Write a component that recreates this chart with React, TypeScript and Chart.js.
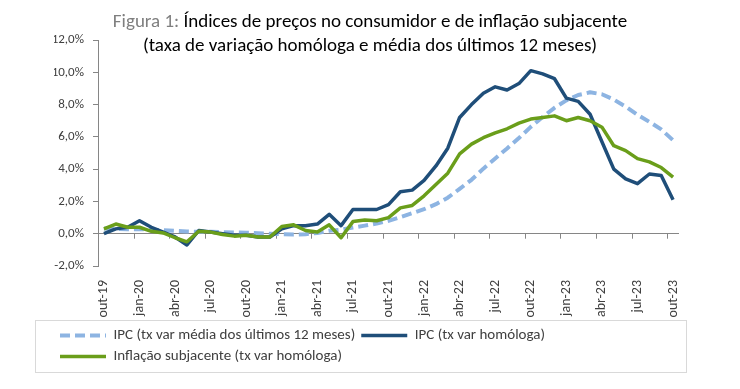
import React, { useEffect, useRef } from 'react';
import { Chart, registerables } from 'chart.js';

Chart.register(...registerables);

const months = [
  'out-19', 'nov-19', 'dez-19',
  'jan-20', 'fev-20', 'mar-20', 'abr-20', 'mai-20', 'jun-20', 'jul-20', 'ago-20', 'set-20', 'out-20', 'nov-20', 'dez-20',
  'jan-21', 'fev-21', 'mar-21', 'abr-21', 'mai-21', 'jun-21', 'jul-21', 'ago-21', 'set-21', 'out-21', 'nov-21', 'dez-21',
  'jan-22', 'fev-22', 'mar-22', 'abr-22', 'mai-22', 'jun-22', 'jul-22', 'ago-22', 'set-22', 'out-22', 'nov-22', 'dez-22',
  'jan-23', 'fev-23', 'mar-23', 'abr-23', 'mai-23', 'jun-23', 'jul-23', 'ago-23', 'set-23', 'out-23',
];

const ipcMedia12 = [
  0.33, 0.3, 0.28,
  0.28, 0.25, 0.22, 0.18, 0.14, 0.12, 0.12, 0.1, 0.08, 0.06, 0.03, 0.0,
  -0.03, -0.05, -0.03, 0.05, 0.18, 0.25, 0.38, 0.5, 0.63, 0.8, 1.03, 1.27,
  1.52, 1.83, 2.23, 2.78, 3.34, 4.03, 4.66, 5.28, 5.93, 6.62, 7.23, 7.8,
  8.26, 8.59, 8.76, 8.64, 8.31, 7.87, 7.37, 6.93, 6.46, 5.79,
];

const ipcHomologa = [
  0.0, 0.3, 0.4,
  0.8, 0.4, 0.1, -0.2, -0.7, 0.2, 0.1, 0.0, -0.1, -0.1, -0.2, -0.2,
  0.3, 0.5, 0.5, 0.6, 1.2, 0.5, 1.5, 1.5, 1.5, 1.8, 2.6, 2.7,
  3.3, 4.2, 5.3, 7.2, 8.0, 8.7, 9.1, 8.9, 9.3, 10.1, 9.9, 9.6,
  8.4, 8.2, 7.4, 5.7, 4.0, 3.4, 3.1, 3.7, 3.6, 2.1,
];

const inflacaoSubjacente = [
  0.3, 0.6, 0.4,
  0.4, 0.15, 0.05, -0.25, -0.5, 0.15, 0.1, -0.05, -0.15, -0.1, -0.2, -0.2,
  0.45, 0.55, 0.2, 0.1, 0.55, -0.25, 0.75, 0.85, 0.8, 1.0, 1.6, 1.75,
  2.35, 3.05, 3.75, 4.95, 5.55, 5.95, 6.25, 6.5, 6.85, 7.1, 7.2, 7.3,
  7.0, 7.2, 7.0, 6.6, 5.45, 5.15, 4.65, 4.45, 4.1, 3.5,
];

const seriesLabels = [
  'IPC (tx var média dos últimos 12 meses)',
  'IPC (tx var homóloga)',
  'Inflação subjacente (tx var homóloga)',
];

const titlePrefix = 'Figura 1: ';
const titleLine1 = 'Índices de preços no consumidor e de inflação subjacente';
const titleLine2 = '(taxa de variação homóloga e média dos últimos 12 meses)';

const yMin = -2;
const yMax = 12;
const yStep = 2;
const labelEvery = 3;

const FONT = 'Carlito, Lato, "Open Sans", sans-serif';
const AXIS_COLOR = '#868686';
const TEXT_COLOR = '#404040';

const titlePlugin = {
  id: 'twoToneTitle',
  afterDraw(chart: any) {
    const { ctx, width } = chart;
    ctx.save();
    ctx.font = `19px ${FONT}`;
    ctx.textBaseline = 'middle';
    const w1 = ctx.measureText(titlePrefix).width;
    const w2 = ctx.measureText(titleLine1).width;
    const x0 = width / 2 - (w1 + w2) / 2;
    ctx.textAlign = 'left';
    ctx.fillStyle = '#7f7f7f';
    ctx.fillText(titlePrefix, x0, 22);
    ctx.fillStyle = '#000000';
    ctx.fillText(titleLine1, x0 + w1, 22);
    ctx.textAlign = 'center';
    ctx.fillText(titleLine2, width / 2, 46);
    ctx.restore();
  },
};

const zeroAxisTicksPlugin = {
  id: 'zeroAxisTicks',
  beforeDatasetsDraw(chart: any) {
    const { ctx } = chart;
    const xs = chart.scales.x;
    const y0 = chart.scales.y.getPixelForValue(0);
    const half = (xs.getPixelForValue(1) - xs.getPixelForValue(0)) / 2;
    ctx.save();
    ctx.strokeStyle = AXIS_COLOR;
    ctx.lineWidth = 1;
    ctx.beginPath();
    months.forEach((_, i) => {
      if (i % labelEvery === 0) {
        const x = Math.round(xs.getPixelForValue(i) - half) + 0.5;
        ctx.moveTo(x, y0);
        ctx.lineTo(x, y0 + 5);
      }
    });
    ctx.stroke();
    ctx.restore();
  },
};

const legendBorderPlugin = {
  id: 'legendBorder',
  afterDraw(chart: any) {
    const lg = chart.legend;
    if (!lg) return;
    const { ctx } = chart;
    ctx.save();
    ctx.strokeStyle = '#d9d9d9';
    ctx.lineWidth = 1;
    const left = Math.round(lg.left - 19) + 0.5;
    const right = Math.round(lg.right + 7) + 0.5;
    const top = Math.round(lg.top - 2) + 0.5;
    const bottom = Math.round(lg.top + 50) + 0.5;
    ctx.strokeRect(left, top, right - left, bottom - top);
    ctx.restore();
  },
};

export default function App() {
  const canvasRef = useRef<HTMLCanvasElement | null>(null);

  useEffect(() => {
    document.body.style.margin = '0';
    const canvas = canvasRef.current;
    if (!canvas) return;

    const colors = ['#8DB4E2', '#1F4E79', '#6A9E1A'];
    const widths = [4, 3.5, 3.5];
    const dashes = [[10, 5], [], []];

    const chart = new Chart(canvas, {
      type: 'line',
      data: {
        labels: months,
        datasets: [
          {
            label: seriesLabels[0],
            data: ipcMedia12,
            borderColor: colors[0],
            backgroundColor: colors[0],
            borderWidth: widths[0],
            borderDash: dashes[0],
            pointRadius: 0,
            tension: 0,
            fill: false,
            order: 2,
          },
          {
            label: seriesLabels[1],
            data: ipcHomologa,
            borderColor: colors[1],
            backgroundColor: colors[1],
            borderWidth: widths[1],
            pointRadius: 0,
            tension: 0,
            fill: false,
            order: 1,
          },
          {
            label: seriesLabels[2],
            data: inflacaoSubjacente,
            borderColor: colors[2],
            backgroundColor: colors[2],
            borderWidth: widths[2],
            pointRadius: 0,
            tension: 0,
            fill: false,
            order: 0,
          },
        ],
      },
      options: {
        responsive: false,
        animation: false,
        events: [],
        layout: { padding: { top: 40, left: 54, right: 61, bottom: 15 } },
        elements: { line: { borderJoinStyle: 'round', borderCapStyle: 'butt' } },
        scales: {
          x: {
            type: 'category',
            offset: true,
            grid: { display: false },
            border: { display: false },
            afterFit: (scale: any) => {
              scale.height = 56;
            },
            ticks: {
              autoSkip: false,
              minRotation: 90,
              maxRotation: 90,
              padding: 6,
              color: TEXT_COLOR,
              font: { family: FONT, size: 14 },
              callback: (_v: any, i: number) => (i % labelEvery === 0 ? months[i] : null),
            },
          },
          y: {
            min: yMin,
            max: yMax,
            afterFit: (scale: any) => {
              scale.width = 44;
            },
            border: { display: true, color: AXIS_COLOR, width: 1 },
            grid: {
              drawOnChartArea: true,
              drawTicks: true,
              tickLength: 5,
              tickColor: AXIS_COLOR,
              color: (ctx: any) => (ctx.tick && ctx.tick.value === 0 ? AXIS_COLOR : 'rgba(0,0,0,0)'),
            },
            ticks: {
              stepSize: yStep,
              padding: 9,
              color: TEXT_COLOR,
              font: { family: FONT, size: 13 },
              callback: (v: any) => Number(v).toFixed(1).replace('.', ',') + '%',
            },
          },
        },
        plugins: {
          title: { display: false },
          tooltip: { enabled: false },
          legend: {
            display: true,
            position: 'bottom',
            align: 'start',
            labels: {
              usePointStyle: true,
              pointStyleWidth: 46,
              padding: 6,
              color: TEXT_COLOR,
              font: { family: FONT, size: 15 },
              generateLabels: (ch: any) =>
                ch.data.datasets.map((ds: any, i: number) => ({
                  text: ds.label,
                  fillStyle: ds.borderColor,
                  strokeStyle: ds.borderColor,
                  lineWidth: ds.borderWidth,
                  lineDash: ds.borderDash || [],
                  lineCap: 'butt',
                  pointStyle: 'line',
                  fontColor: TEXT_COLOR,
                  hidden: false,
                  datasetIndex: i,
                })),
            },
          },
        },
      },
      plugins: [titlePlugin, zeroAxisTicksPlugin, legendBorderPlugin],
    } as any);

    return () => chart.destroy();
  }, []);

  return (
    <div style={{ width: 740, height: 389 }}>
      <canvas ref={canvasRef} width={740} height={389} />
    </div>
  );
}
